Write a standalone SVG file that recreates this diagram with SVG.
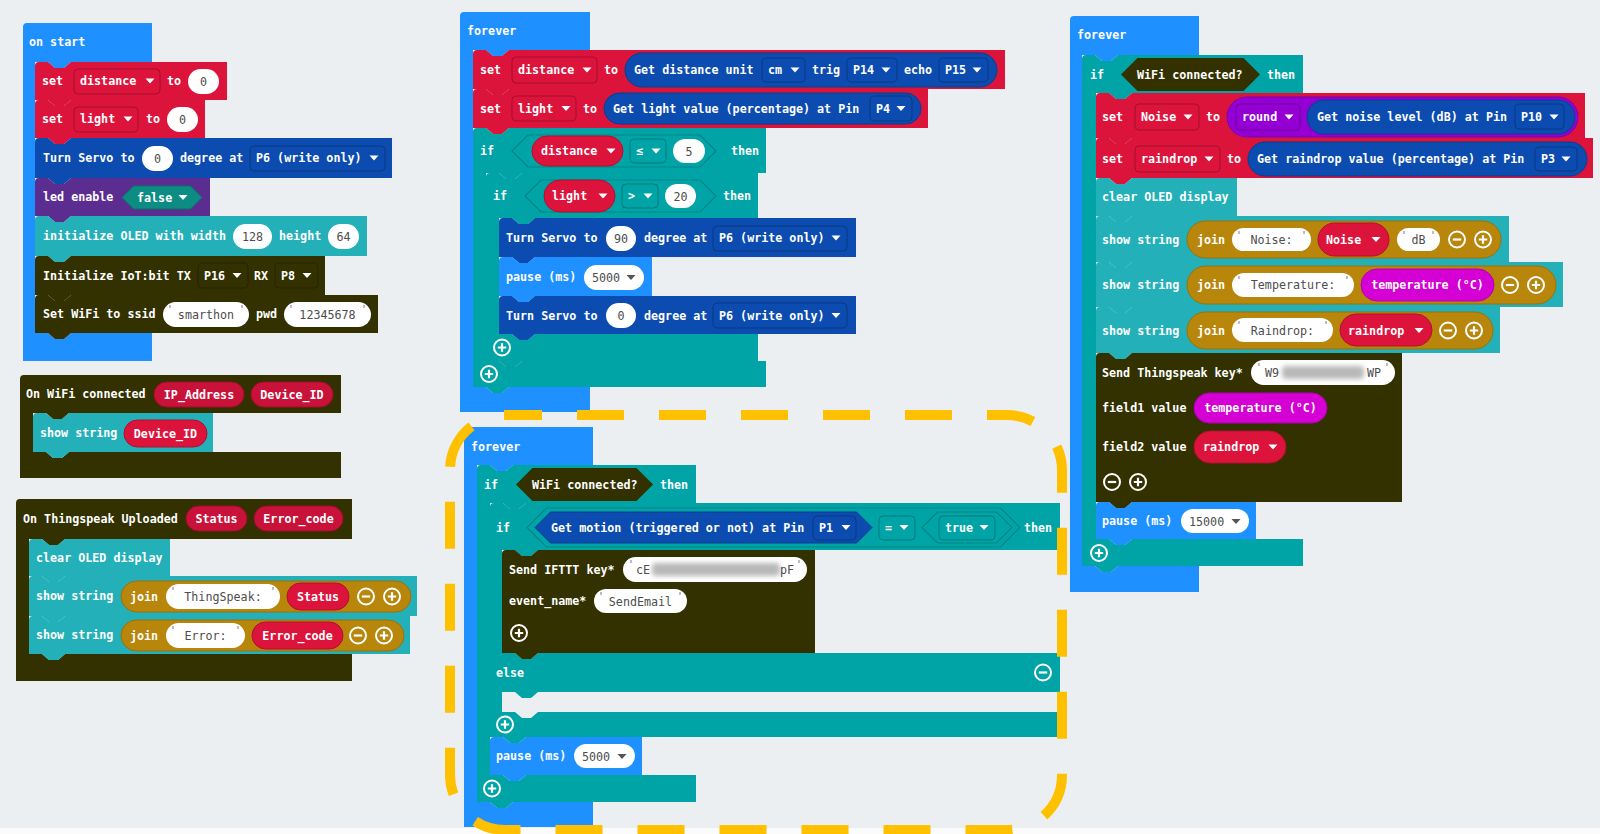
<svg xmlns="http://www.w3.org/2000/svg" xmlns:xlink="http://www.w3.org/1999/xlink" width="1600" height="834" viewBox="0 0 1600 834">
<style>
.t{font-family:"DejaVu Sans Mono",monospace;font-size:11.7px;font-weight:bold;fill:#fff;dominant-baseline:central}
.s{font-family:"DejaVu Sans Mono",monospace;font-size:11.7px;fill:#4d4d4d;dominant-baseline:central}
.m{text-anchor:middle}
.e{text-anchor:end}
.blue{fill:#1e90ff}
.red{fill:#dc143c}
.dkb{fill:#0c4cb0}
.pur{fill:#5c2d91}
.oled{fill:#24b0b8}
.iot{fill:#333100}
.logic{fill:#00a4a6}
.lgs{fill:#00a4a6;stroke:#008587;stroke-width:1.2}
.join{fill:#b8860b;stroke:#9a700a;stroke-width:1}
.mag{fill:#d400d4;stroke:#b000b0;stroke-width:1}
.math{fill:#9400d3;stroke:#7a00b0;stroke-width:1}
.rp{fill:#dc143c;stroke:#b0102f;stroke-width:1}
.ep{fill:#c8123a;stroke:#a00c2c;stroke-width:1}
.bp{fill:#0c4cb0;stroke:#0a3d8c;stroke-width:1}
.dd{fill:none;stroke:rgba(0,0,0,0.25);stroke-width:1}
.str{fill:#fff}
.blur{fill:#b8b8b8;filter:url(#bl)}
</style>
<defs>
<filter id="bl" x="-20%" y="-50%" width="140%" height="200%"><feGaussianBlur stdDeviation="2.5"/></filter>
<path id="arw" d="M-4.5,-2.5 h9 l-4.5,5 z"/>
<path id="q" d="M0,0 v3" stroke="#a89ab8" stroke-width="1.4"/>
<g id="plus"><circle r="8" fill="none" stroke="#fff" stroke-width="2"/><path d="M-4.2,0h8.4M0,-4.2v8.4" stroke="#fff" stroke-width="2.2"/></g>
<g id="minus"><circle r="8" fill="none" stroke="#fff" stroke-width="2"/><path d="M-4.2,0h8.4" stroke="#fff" stroke-width="2.2"/></g>
</defs>
<rect x="0" y="0" width="1600" height="834" fill="#eceff1"/>
<rect x="0" y="828" width="1600" height="6" fill="#fbfbfb"/>

<!-- ON START -->
<g id="on-start">
<path class="blue" d="M23,27 a4,4 0 0 1 4,-4 H152 V62 H71 l-7,6 h-9 l-7,-6 H35 V333 H48 l7,6 h9 l7,-6 H152 V361 H23 Z"/>
<text class="t" x="29" y="42">on start</text>
<g id="start-set-distance">
<path class="red" d="M35,66 a4,4 0 0 1 4,-4 H48 l7,6 h9 l7,-6 H227 V100 H71 l-7,6 h-9 l-7,-6 H35 Z"/>
<text class="t" x="42" y="81">set</text>
<rect class="dd" x="74" y="69" width="86" height="25" rx="4"/>
<text class="t" x="80" y="81">distance</text><use href="#arw" x="150" y="81" fill="#fff"/>
<text class="t" x="167" y="81">to</text>
<rect class="str" x="188" y="69" width="31" height="25" rx="12.5"/><text class="s m" x="203.5" y="81.5">0</text>
</g>
<g id="start-set-light">
<path class="red" d="M35,104 a4,4 0 0 1 4,-4 H48 l7,6 h9 l7,-6 H205 V138 H71 l-7,6 h-9 l-7,-6 H35 Z"/>
<text class="t" x="42" y="119">set</text>
<rect class="dd" x="74" y="107" width="64" height="25" rx="4"/>
<text class="t" x="80" y="119">light</text><use href="#arw" x="128" y="119" fill="#fff"/>
<text class="t" x="146" y="119">to</text>
<rect class="str" x="167" y="107" width="31" height="25" rx="12.5"/><text class="s m" x="182.5" y="119.5">0</text>
</g>
<g id="start-servo">
<path class="dkb" d="M35,142 a4,4 0 0 1 4,-4 H48 l7,6 h9 l7,-6 H392 V178 H71 l-7,6 h-9 l-7,-6 H35 Z"/>
<text class="t" x="43" y="158">Turn Servo to</text>
<rect class="str" x="142" y="146" width="31" height="25" rx="12.5"/><text class="s m" x="157.5" y="158.5">0</text>
<text class="t" x="180" y="158">degree at</text>
<rect class="dd" x="250" y="146" width="135" height="25" rx="4"/>
<text class="t" x="256" y="158">P6 (write only)</text><use href="#arw" x="374" y="158" fill="#fff"/>
</g>
<g id="start-led">
<path class="pur" d="M35,182 a4,4 0 0 1 4,-4 H48 l7,6 h9 l7,-6 H210 V216 H71 l-7,6 h-9 l-7,-6 H35 Z"/>
<text class="t" x="43" y="197">led enable</text>
<path fill="#0c8c82" stroke="#07736b" d="M122,197.5 L133.5,186 H190.5 L202,197.5 L190.5,209 H133.5 Z"/>
<text class="t" x="137" y="197.5">false</text><use href="#arw" x="183" y="197.5" fill="#fff"/>
</g>
<g id="start-oled">
<path class="oled" d="M35,220 a4,4 0 0 1 4,-4 H48 l7,6 h9 l7,-6 H367 V256 H71 l-7,6 h-9 l-7,-6 H35 Z"/>
<text class="t" x="43" y="236">initialize OLED with width</text>
<rect class="str" x="233" y="224" width="39" height="25" rx="12.5"/><text class="s m" x="252.5" y="236.5">128</text>
<text class="t" x="279" y="236">height</text>
<rect class="str" x="328" y="224" width="31" height="25" rx="12.5"/><text class="s m" x="343.5" y="236.5">64</text>
</g>
<g id="start-iot">
<path class="iot" d="M35,260 a4,4 0 0 1 4,-4 H48 l7,6 h9 l7,-6 H325 V295 H71 l-7,6 h-9 l-7,-6 H35 Z"/>
<text class="t" x="43" y="275.5">Initialize IoT:bit TX</text>
<rect class="dd" x="198" y="263" width="50" height="25" rx="4"/>
<text class="t" x="204" y="275.5">P16</text><use href="#arw" x="237" y="275.5" fill="#fff"/>
<text class="t" x="254" y="275.5">RX</text>
<rect class="dd" x="275" y="263" width="43" height="25" rx="4"/>
<text class="t" x="281" y="275.5">P8</text><use href="#arw" x="307" y="275.5" fill="#fff"/>
</g>
<g id="start-wifi">
<path class="iot" d="M35,299 a4,4 0 0 1 4,-4 H48 l7,6 h9 l7,-6 H378 V333 H71 l-7,6 h-9 l-7,-6 H35 Z"/>
<text class="t" x="43" y="314">Set WiFi to ssid</text>
<rect class="str" x="163" y="302" width="86" height="25" rx="12.5"/><text class="s m" x="206" y="314.5">smarthon</text>
<use href="#q" x="170" y="305"/><use href="#q" x="242" y="305"/>
<text class="t" x="256" y="314">pwd</text>
<rect class="str" x="284" y="302" width="87" height="25" rx="12.5"/><text class="s m" x="327.5" y="314.5">12345678</text>
<use href="#q" x="291" y="305"/><use href="#q" x="364" y="305"/>
</g>
</g>

<!-- ON WIFI CONNECTED -->
<g id="on-wifi-connected">
<path class="iot" d="M20,379 a4,4 0 0 1 4,-4 H341 V413 H69 l-7,6 h-9 l-7,-6 H33 V452 H46 l7,6 h9 l7,-6 H341 V478 H20 Z"/>
<text class="t" x="26" y="394">On WiFi connected</text>
<rect class="ep" x="154" y="382" width="90" height="25" rx="12.5"/><text class="t m" x="199" y="394.5">IP_Address</text>
<rect class="ep" x="251" y="382" width="82" height="25" rx="12.5"/><text class="t m" x="292" y="394.5">Device_ID</text>
<g id="wifi-show">
<path class="oled" d="M33,417 a4,4 0 0 1 4,-4 H46 l7,6 h9 l7,-6 H213 V452 H69 l-7,6 h-9 l-7,-6 H33 Z"/>
<text class="t" x="40" y="433">show string</text>
<rect class="rp" x="124" y="420" width="83" height="27" rx="13.5"/><text class="t m" x="165.5" y="433.5">Device_ID</text>
</g>
</g>

<!-- ON THINGSPEAK UPLOADED -->
<g id="on-thingspeak-uploaded">
<path class="iot" d="M16,503 a4,4 0 0 1 4,-4 H352 V539 H65 l-7,6 h-9 l-7,-6 H29 V654 H42 l7,6 h9 l7,-6 H352 V681 H16 Z"/>
<text class="t" x="23" y="518.5">On Thingspeak Uploaded</text>
<rect class="ep" x="186" y="506" width="61" height="25" rx="12.5"/><text class="t m" x="216.5" y="518.5">Status</text>
<rect class="ep" x="254" y="506" width="89" height="25" rx="12.5"/><text class="t m" x="298.5" y="518.5">Error_code</text>
<g id="ts-clear">
<path class="oled" d="M29,543 a4,4 0 0 1 4,-4 H42 l7,6 h9 l7,-6 H170 V576 H65 l-7,6 h-9 l-7,-6 H29 Z"/>
<text class="t" x="36" y="557.5">clear OLED display</text>
</g>
<g id="ts-show-status">
<path class="oled" d="M29,580 a4,4 0 0 1 4,-4 H42 l7,6 h9 l7,-6 H417 V616 H65 l-7,6 h-9 l-7,-6 H29 Z"/>
<text class="t" x="36" y="596">show string</text>
<rect class="join" x="121" y="581" width="290" height="31" rx="15.5"/>
<text class="t" x="130" y="596.5">join</text>
<rect class="str" x="166" y="584" width="114" height="25" rx="12.5"/><text class="s m" x="223" y="596.5">ThingSpeak:</text>
<use href="#q" x="173" y="587"/><use href="#q" x="273" y="587"/>
<rect class="rp" x="287" y="583" width="62" height="27" rx="13.5"/><text class="t m" x="318" y="596.5">Status</text>
<use href="#minus" x="366" y="596.5"/><use href="#plus" x="392" y="596.5"/>
</g>
<g id="ts-show-error">
<path class="oled" d="M29,620 a4,4 0 0 1 4,-4 H42 l7,6 h9 l7,-6 H410 V654 H65 l-7,6 h-9 l-7,-6 H29 Z"/>
<text class="t" x="36" y="635">show string</text>
<rect class="join" x="121" y="620" width="283" height="31" rx="15.5"/>
<text class="t" x="130" y="635.5">join</text>
<rect class="str" x="166" y="623" width="79" height="25" rx="12.5"/><text class="s m" x="205.5" y="635.5">Error:</text>
<use href="#q" x="173" y="626"/><use href="#q" x="238" y="626"/>
<rect class="rp" x="252" y="622" width="91" height="27" rx="13.5"/><text class="t m" x="297.5" y="635.5">Error_code</text>
<use href="#minus" x="358" y="635.5"/><use href="#plus" x="384" y="635.5"/>
</g>
</g>

<!-- FOREVER 1 -->
<g id="forever-1">
<path class="blue" d="M460,16 a4,4 0 0 1 4,-4 H590 V50 H509 l-7,6 h-9 l-7,-6 H473 V387 H486 l7,6 h9 l7,-6 H590 V412 H460 Z"/>
<text class="t" x="467" y="31">forever</text>
<g id="f1-set-distance">
<path class="red" d="M473,54 a4,4 0 0 1 4,-4 H486 l7,6 h9 l7,-6 H1005 V89 H509 l-7,6 h-9 l-7,-6 H473 Z"/>
<text class="t" x="480" y="70">set</text>
<rect class="dd" x="512" y="57" width="85" height="26" rx="4"/>
<text class="t" x="518" y="70">distance</text><use href="#arw" x="587" y="70" fill="#fff"/>
<text class="t" x="604" y="70">to</text>
<rect class="bp" x="625" y="53" width="372" height="34" rx="17"/>
<text class="t" x="634" y="70">Get distance unit</text>
<rect class="dd" x="762" y="58" width="43" height="24" rx="4"/>
<text class="t" x="768" y="70">cm</text><use href="#arw" x="795" y="70" fill="#fff"/>
<text class="t" x="812" y="70">trig</text>
<rect class="dd" x="847" y="58" width="50" height="24" rx="4"/>
<text class="t" x="853" y="70">P14</text><use href="#arw" x="886" y="70" fill="#fff"/>
<text class="t" x="904" y="70">echo</text>
<rect class="dd" x="939" y="58" width="49" height="24" rx="4"/>
<text class="t" x="945" y="70">P15</text><use href="#arw" x="977" y="70" fill="#fff"/>
</g>
<g id="f1-set-light">
<path class="red" d="M473,93 a4,4 0 0 1 4,-4 H486 l7,6 h9 l7,-6 H928 V128 H509 l-7,6 h-9 l-7,-6 H473 Z"/>
<text class="t" x="480" y="108.5">set</text>
<rect class="dd" x="512" y="96" width="64" height="25" rx="4"/>
<text class="t" x="518" y="108.5">light</text><use href="#arw" x="566" y="108.5" fill="#fff"/>
<text class="t" x="583" y="108.5">to</text>
<rect class="bp" x="604" y="93" width="317" height="31" rx="15.5"/>
<text class="t" x="613" y="108.5">Get light value (percentage) at Pin</text>
<rect class="dd" x="870" y="96" width="42" height="25" rx="4"/>
<text class="t" x="876" y="108.5">P4</text><use href="#arw" x="901" y="108.5" fill="#fff"/>
</g>
<g id="f1-if-distance">
<path class="logic" d="M473,132 a4,4 0 0 1 4,-4 H486 l7,6 h9 l7,-6 H766 V173 H522 l-7,6 h-9 l-7,-6 H486 V361 H499 l7,6 h9 l7,-6 H766 V387 H509 l-7,6 h-9 l-7,-6 H473 Z"/>
<text class="t" x="480" y="151">if</text>
<path class="lgs" d="M512,151 L528,135 H700 L716,151 L700,167 H528 Z"/>
<rect class="rp" x="532" y="136" width="91" height="30" rx="15"/>
<text class="t" x="541" y="151">distance</text><use href="#arw" x="611" y="151" fill="#fff"/>
<rect class="dd" x="630" y="139" width="36" height="24" rx="4"/>
<text class="t" x="636" y="151">≤</text><use href="#arw" x="656" y="151" fill="#fff"/>
<rect class="str" x="673" y="139" width="32" height="24" rx="12"/><text class="s m" x="689" y="151.5">5</text>
<text class="t" x="731" y="151">then</text>
<use href="#plus" x="489" y="374"/>
</g>
<g id="f1-if-light">
<path class="logic" d="M486,177 a4,4 0 0 1 4,-4 H499 l7,6 h9 l7,-6 H758 V218 H535 l-7,6 h-9 l-7,-6 H499 V334 H512 l7,6 h9 l7,-6 H758 V361 H522 l-7,6 h-9 l-7,-6 H486 Z"/>
<text class="t" x="493" y="196">if</text>
<path class="lgs" d="M525,196 L541,180 H700 L716,196 L700,212 H541 Z"/>
<rect class="rp" x="544" y="180" width="71" height="32" rx="16"/>
<text class="t" x="552" y="196">light</text><use href="#arw" x="603" y="196" fill="#fff"/>
<rect class="dd" x="622" y="184" width="36" height="24" rx="4"/>
<text class="t" x="628" y="196">&gt;</text><use href="#arw" x="648" y="196" fill="#fff"/>
<rect class="str" x="665" y="184" width="31" height="24" rx="12"/><text class="s m" x="680.5" y="196.5">20</text>
<text class="t" x="723" y="196">then</text>
<use href="#plus" x="502" y="347.5"/>
</g>
<g id="f1-servo-90">
<path class="dkb" d="M499,222 a4,4 0 0 1 4,-4 H512 l7,6 h9 l7,-6 H856 V257 H535 l-7,6 h-9 l-7,-6 H499 Z"/>
<text class="t" x="506" y="238">Turn Servo to</text>
<rect class="str" x="606" y="226" width="30" height="25" rx="12.5"/><text class="s m" x="621" y="238.5">90</text>
<text class="t" x="644" y="238">degree at</text>
<rect class="dd" x="713" y="226" width="134" height="25" rx="4"/>
<text class="t" x="719" y="238">P6 (write only)</text><use href="#arw" x="836" y="238" fill="#fff"/>
</g>
<g id="f1-pause">
<path class="blue" d="M499,261 a4,4 0 0 1 4,-4 H512 l7,6 h9 l7,-6 H652 V296 H535 l-7,6 h-9 l-7,-6 H499 Z"/>
<text class="t" x="506" y="277">pause (ms)</text>
<rect class="str" x="584" y="265" width="60" height="25" rx="12.5"/>
<text class="s" x="592" y="277.5">5000</text><use href="#arw" x="631" y="277.5" fill="#555"/>
</g>
<g id="f1-servo-0">
<path class="dkb" d="M499,300 a4,4 0 0 1 4,-4 H512 l7,6 h9 l7,-6 H856 V334 H535 l-7,6 h-9 l-7,-6 H499 Z"/>
<text class="t" x="506" y="315.5">Turn Servo to</text>
<rect class="str" x="606" y="303" width="30" height="25" rx="12.5"/><text class="s m" x="621" y="315.5">0</text>
<text class="t" x="644" y="315.5">degree at</text>
<rect class="dd" x="713" y="303" width="134" height="25" rx="4"/>
<text class="t" x="719" y="315.5">P6 (write only)</text><use href="#arw" x="836" y="315.5" fill="#fff"/>
</g>
</g>

<!-- FOREVER 2 -->
<g id="forever-2">
<path class="blue" d="M464,431 a4,4 0 0 1 4,-4 H593 V465 H513 l-7,6 h-9 l-7,-6 H477 V802 H490 l7,6 h9 l7,-6 H593 V827 H464 Z"/>
<text class="t" x="471" y="447">forever</text>
<g id="f2-if-wifi">
<path class="logic" d="M477,469 a4,4 0 0 1 4,-4 H490 l7,6 h9 l7,-6 H696 V503 H526 l-7,6 h-9 l-7,-6 H490 V775 H503 l7,6 h9 l7,-6 H696 V802 H513 l-7,6 h-9 l-7,-6 H477 Z"/>
<text class="t" x="484" y="484.5">if</text>
<path class="iot" d="M516,484.5 L532.5,468 H636.5 L653,484.5 L636.5,501 H532.5 Z"/>
<text class="t" x="532" y="484.5">WiFi connected?</text>
<text class="t" x="660" y="484.5">then</text>
<use href="#plus" x="492" y="788.5"/>
</g>
<g id="f2-if-motion">
<path class="logic" d="M490,507 a4,4 0 0 1 4,-4 H503 l7,6 h9 l7,-6 H1060 V550 H538 l-7,6 h-9 l-7,-6 H502 V653 H515 l7,6 h9 l7,-6 H1060 V692 H538 l-7,6 h-9 l-7,-6 H502 V712 H515 l7,6 h9 l7,-6 H1060 V737 H526 l-7,6 h-9 l-7,-6 H490 Z"/>
<text class="t" x="496" y="527.5">if</text>
<path class="lgs" d="M527,527.5 L546.5,508 H1000.5 L1020,527.5 L1000.5,547 H546.5 Z"/>
<path class="dkb" stroke="#0a3d8c" d="M535,527.5 L550.5,512 H856.5 L872,527.5 L856.5,543 H550.5 Z"/>
<text class="t" x="551" y="527.5">Get motion (triggered or not) at Pin</text>
<rect class="dd" x="813" y="516" width="43" height="24" rx="4"/>
<text class="t" x="819" y="527.5">P1</text><use href="#arw" x="846" y="527.5" fill="#fff"/>
<rect class="dd" x="879" y="516" width="36" height="24" rx="4"/>
<text class="t" x="885" y="527.5">=</text><use href="#arw" x="904" y="527.5" fill="#fff"/>
<path class="lgs" d="M922,527.5 L937.5,512 H996.5 L1012,527.5 L996.5,543 H937.5 Z"/>
<rect class="dd" x="939" y="516" width="56" height="24" rx="4"/>
<text class="t" x="945" y="527.5">true</text><use href="#arw" x="984" y="527.5" fill="#fff"/>
<text class="t" x="1024" y="527.5">then</text>
<text class="t" x="496" y="672.5">else</text>
<use href="#minus" x="1043" y="672.5"/>
<use href="#plus" x="505" y="724.5"/>
</g>
<g id="f2-ifttt">
<path class="iot" d="M502,554 a4,4 0 0 1 4,-4 H515 l7,6 h9 l7,-6 H815 V653 H538 l-7,6 h-9 l-7,-6 H502 Z"/>
<text class="t" x="509" y="569.5">Send IFTTT key*</text>
<rect class="str" x="623" y="557" width="184" height="25" rx="12.5"/>
<rect class="blur" x="652" y="563" width="128" height="13" rx="4"/>
<text class="s" x="636" y="569.5">cE</text><text class="s e" x="794" y="569.5">pF</text>
<use href="#q" x="631" y="560"/><use href="#q" x="799" y="560"/>
<text class="t" x="509" y="601">event_name*</text>
<rect class="str" x="594" y="589" width="93" height="24" rx="12"/><text class="s m" x="640.5" y="601.5">SendEmail</text>
<use href="#q" x="601" y="592"/><use href="#q" x="680" y="592"/>
<use href="#plus" x="519" y="633"/>
</g>
<g id="f2-pause">
<path class="blue" d="M490,741 a4,4 0 0 1 4,-4 H503 l7,6 h9 l7,-6 H642 V775 H526 l-7,6 h-9 l-7,-6 H490 Z"/>
<text class="t" x="496" y="756">pause (ms)</text>
<rect class="str" x="574" y="744" width="61" height="24" rx="12"/>
<text class="s" x="582" y="756.5">5000</text><use href="#arw" x="622" y="756.5" fill="#555"/>
</g>
</g>

<!-- FOREVER 3 -->
<g id="forever-3">
<path class="blue" d="M1070,20 a4,4 0 0 1 4,-4 H1199 V55 H1118 l-7,6 h-9 l-7,-6 H1082 V566 H1095 l7,6 h9 l7,-6 H1199 V592 H1070 Z"/>
<text class="t" x="1077" y="35">forever</text>
<g id="f3-if-wifi">
<path class="logic" d="M1082,59 a4,4 0 0 1 4,-4 H1095 l7,6 h9 l7,-6 H1303 V93 H1132 l-7,6 h-9 l-7,-6 H1096 V539 H1109 l7,6 h9 l7,-6 H1303 V566 H1118 l-7,6 h-9 l-7,-6 H1082 Z"/>
<text class="t" x="1090" y="74.5">if</text>
<path class="iot" d="M1121,74.5 L1137.5,58 H1243.5 L1260,74.5 L1243.5,91 H1137.5 Z"/>
<text class="t" x="1137" y="74.5">WiFi connected?</text>
<text class="t" x="1267" y="74.5">then</text>
<use href="#plus" x="1099" y="553"/>
</g>
<g id="f3-set-noise">
<path class="red" d="M1096,97 a4,4 0 0 1 4,-4 H1109 l7,6 h9 l7,-6 H1585 V138 H1132 l-7,6 h-9 l-7,-6 H1096 Z"/>
<text class="t" x="1102" y="117">set</text>
<rect class="dd" x="1135" y="104" width="64" height="26" rx="4"/>
<text class="t" x="1141" y="117">Noise</text><use href="#arw" x="1188" y="117" fill="#fff"/>
<text class="t" x="1206" y="117">to</text>
<rect class="math" x="1227" y="97" width="351" height="40" rx="20"/>
<rect class="dd" x="1236" y="104" width="64" height="26" rx="4"/>
<text class="t" x="1242" y="117">round</text><use href="#arw" x="1289" y="117" fill="#fff"/>
<rect class="bp" x="1307" y="100" width="268" height="34" rx="17"/>
<text class="t" x="1317" y="117">Get noise level (dB) at Pin</text>
<rect class="dd" x="1515" y="104" width="49" height="25" rx="4"/>
<text class="t" x="1521" y="117">P10</text><use href="#arw" x="1554" y="117" fill="#fff"/>
</g>
<g id="f3-set-raindrop">
<path class="red" d="M1096,142 a4,4 0 0 1 4,-4 H1109 l7,6 h9 l7,-6 H1593 V178 H1132 l-7,6 h-9 l-7,-6 H1096 Z"/>
<text class="t" x="1102" y="159">set</text>
<rect class="dd" x="1135" y="146" width="85" height="26" rx="4"/>
<text class="t" x="1141" y="159">raindrop</text><use href="#arw" x="1209" y="159" fill="#fff"/>
<text class="t" x="1227" y="159">to</text>
<rect class="bp" x="1248" y="142" width="339" height="34" rx="17"/>
<text class="t" x="1257" y="159">Get raindrop value (percentage) at Pin</text>
<rect class="dd" x="1535" y="147" width="42" height="24" rx="4"/>
<text class="t" x="1541" y="159">P3</text><use href="#arw" x="1566" y="159" fill="#fff"/>
</g>
<g id="f3-clear">
<path class="oled" d="M1096,182 a4,4 0 0 1 4,-4 H1109 l7,6 h9 l7,-6 H1237 V216 H1132 l-7,6 h-9 l-7,-6 H1096 Z"/>
<text class="t" x="1102" y="197">clear OLED display</text>
</g>
<g id="f3-show-noise">
<path class="oled" d="M1096,220 a4,4 0 0 1 4,-4 H1109 l7,6 h9 l7,-6 H1509 V262 H1132 l-7,6 h-9 l-7,-6 H1096 Z"/>
<text class="t" x="1102" y="239.5">show string</text>
<rect class="join" x="1187" y="221" width="314" height="37" rx="18.5"/>
<text class="t" x="1197" y="239.5">join</text>
<rect class="str" x="1232" y="228" width="79" height="23" rx="11.5"/><text class="s m" x="1271.5" y="239.5">Noise:</text>
<use href="#q" x="1239" y="231"/><use href="#q" x="1304" y="231"/>
<rect class="rp" x="1318" y="223" width="71" height="33" rx="16.5"/>
<text class="t" x="1326" y="239.5">Noise</text><use href="#arw" x="1376" y="239.5" fill="#fff"/>
<rect class="str" x="1397" y="228" width="43" height="23" rx="11.5"/><text class="s m" x="1418.5" y="239.5">dB</text>
<use href="#q" x="1404" y="231"/><use href="#q" x="1433" y="231"/>
<use href="#minus" x="1457" y="239.5"/><use href="#plus" x="1483" y="239.5"/>
</g>
<g id="f3-show-temp">
<path class="oled" d="M1096,266 a4,4 0 0 1 4,-4 H1109 l7,6 h9 l7,-6 H1563 V307 H1132 l-7,6 h-9 l-7,-6 H1096 Z"/>
<text class="t" x="1102" y="285">show string</text>
<rect class="join" x="1187" y="266" width="369" height="38" rx="19"/>
<text class="t" x="1197" y="285">join</text>
<rect class="str" x="1232" y="273" width="122" height="24" rx="12"/><text class="s m" x="1293" y="285">Temperature:</text>
<use href="#q" x="1239" y="276"/><use href="#q" x="1347" y="276"/>
<rect class="mag" x="1361" y="269" width="133" height="32" rx="16"/><text class="t m" x="1427.5" y="285">temperature (°C)</text>
<use href="#minus" x="1510" y="285"/><use href="#plus" x="1536" y="285"/>
</g>
<g id="f3-show-rain">
<path class="oled" d="M1096,311 a4,4 0 0 1 4,-4 H1109 l7,6 h9 l7,-6 H1500 V353 H1132 l-7,6 h-9 l-7,-6 H1096 Z"/>
<text class="t" x="1102" y="330.5">show string</text>
<rect class="join" x="1187" y="312" width="306" height="37" rx="18.5"/>
<text class="t" x="1197" y="330.5">join</text>
<rect class="str" x="1232" y="318" width="101" height="24" rx="12"/><text class="s m" x="1282.5" y="330.5">Raindrop:</text>
<use href="#q" x="1239" y="321"/><use href="#q" x="1326" y="321"/>
<rect class="rp" x="1340" y="314" width="92" height="32" rx="16"/>
<text class="t" x="1348" y="330.5">raindrop</text><use href="#arw" x="1419" y="330.5" fill="#fff"/>
<use href="#minus" x="1448" y="330.5"/><use href="#plus" x="1474" y="330.5"/>
</g>
<g id="f3-send-thingspeak">
<path class="iot" d="M1096,357 a4,4 0 0 1 4,-4 H1109 l7,6 h9 l7,-6 H1402 V502 H1132 l-7,6 h-9 l-7,-6 H1096 Z"/>
<text class="t" x="1102" y="372.5">Send Thingspeak key*</text>
<rect class="str" x="1251" y="360" width="144" height="25" rx="12.5"/>
<rect class="blur" x="1282" y="366" width="82" height="13" rx="4"/>
<text class="s" x="1265" y="372.5">W9</text><text class="s e" x="1381" y="372.5">WP</text>
<use href="#q" x="1259" y="363"/><use href="#q" x="1387" y="363"/>
<text class="t" x="1102" y="408">field1 value</text>
<rect class="mag" x="1194" y="393" width="133" height="30" rx="15"/><text class="t m" x="1260.5" y="408">temperature (°C)</text>
<text class="t" x="1102" y="447">field2 value</text>
<rect class="rp" x="1194" y="431" width="92" height="32" rx="16"/>
<text class="t" x="1203" y="447">raindrop</text><use href="#arw" x="1273" y="447" fill="#fff"/>
<use href="#minus" x="1112" y="482"/><use href="#plus" x="1138" y="482"/>
</g>
<g id="f3-pause">
<path class="blue" d="M1096,506 a4,4 0 0 1 4,-4 H1109 l7,6 h9 l7,-6 H1256 V539 H1132 l-7,6 h-9 l-7,-6 H1096 Z"/>
<text class="t" x="1102" y="521">pause (ms)</text>
<rect class="str" x="1181" y="509" width="68" height="24" rx="12"/>
<text class="s" x="1189" y="521.5">15000</text><use href="#arw" x="1236" y="521.5" fill="#555"/>
</g>
</g>

<!-- Highlight outline -->
<g id="connectors">
<rect x="450" y="415" width="612" height="415" rx="55" fill="none" stroke="#ffc000" stroke-width="10" stroke-dasharray="47 35" stroke-dashoffset="10"/>
</g>
</svg>
